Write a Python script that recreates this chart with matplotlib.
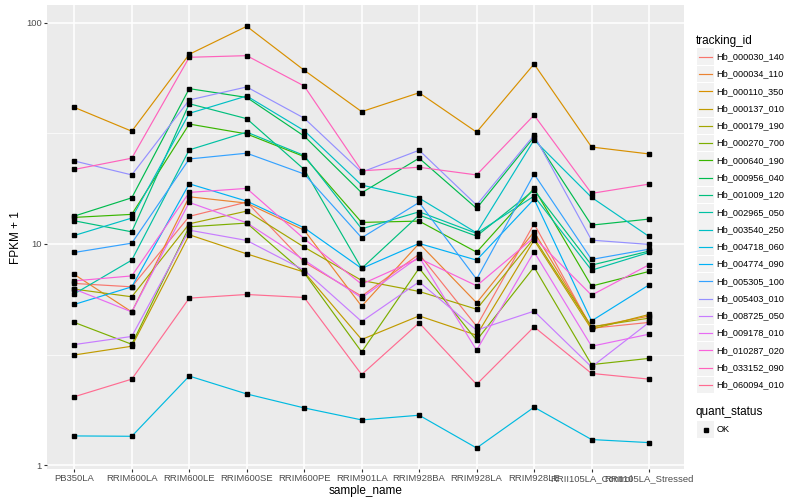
import matplotlib
matplotlib.use("Agg")
import matplotlib.pyplot as plt
from matplotlib.patches import Rectangle
from matplotlib.lines import Line2D

plt.rcParams['font.family'] = ['Liberation Sans', 'DejaVu Sans']

samples = ['PB350LA', 'RRIM600LA', 'RRIM600LE', 'RRIM600SE', 'RRIM600PE', 'RRIM901LA',
           'RRIM928BA', 'RRIM928LA', 'RRIM928LE', 'RRII105LA_Control', 'RRII105LA_Stressed']

tracking_ids = ['Hb_000030_140', 'Hb_000034_110', 'Hb_000110_350', 'Hb_000137_010', 'Hb_000179_190',
                'Hb_000270_700', 'Hb_000640_190', 'Hb_000956_040', 'Hb_001009_120', 'Hb_002965_050',
                'Hb_003540_250', 'Hb_004718_060', 'Hb_004774_090', 'Hb_005305_100', 'Hb_005403_010',
                'Hb_008725_050', 'Hb_009178_010', 'Hb_010287_020', 'Hb_033152_090', 'Hb_060094_010']

# ggplot default hue palette for 20 levels
colors = ['#F8766D', '#EA8331', '#D89000', '#C09B00', '#A3A500', '#7CAE00', '#39B600', '#00BB4E',
          '#00BF7D', '#00C1A3', '#00BFC4', '#00BAE0', '#00B0F6', '#35A2FF', '#9590FF', '#C77CFF',
          '#E76BF3', '#FA62DB', '#FF62BC', '#FF6C91']

# FPKM + 1 per gene, one value per sample
fpkm = {
    'Hb_000030_140': [6.63, 6.40, 13.32, 15.45, 8.27, 5.81, 8.99, 4.25, 12.33, 4.16, 4.42],
    'Hb_000034_110': [7.28, 4.93, 16.33, 15.29, 11.54, 5.23, 10.05, 5.42, 11.34, 4.21, 4.72],
    'Hb_000110_350': [41.4, 32.3, 71.9, 96.2, 60.9, 39.6, 48.2, 32.0, 65.0, 27.4, 25.5],
    'Hb_000137_010': [3.15, 3.45, 11.0, 9.02, 7.46, 3.70, 4.73, 3.87, 10.4, 4.12, 4.80],
    'Hb_000179_190': [6.25, 5.77, 12.33, 14.07, 9.67, 6.84, 6.10, 5.07, 10.62, 4.22, 4.62],
    'Hb_000270_700': [4.42, 3.52, 11.95, 12.42, 7.40, 3.25, 7.77, 3.67, 7.86, 2.85, 3.04],
    'Hb_000640_190': [13.18, 13.60, 34.8, 31.4, 24.8, 12.51, 12.68, 9.18, 17.82, 6.45, 7.51],
    'Hb_000956_040': [13.36, 16.16, 50.3, 45.9, 30.7, 17.02, 24.4, 14.47, 30.4, 12.16, 12.95],
    'Hb_001009_120': [12.72, 11.34, 43.0, 36.8, 21.7, 7.75, 13.50, 10.85, 17.51, 8.02, 9.28],
    'Hb_002965_050': [5.95, 8.45, 26.6, 32.0, 25.1, 11.70, 13.97, 11.16, 16.45, 7.61, 9.15],
    'Hb_003540_250': [10.92, 13.09, 38.9, 46.6, 32.5, 18.44, 16.11, 11.22, 29.5, 16.23, 10.81],
    'Hb_004718_060': [1.357, 1.352, 2.53, 2.10, 1.816, 1.603, 1.683, 1.197, 1.83, 1.307, 1.266],
    'Hb_004774_090': [5.33, 6.40, 18.69, 15.61, 11.82, 7.75, 10.05, 8.45, 15.94, 4.49, 6.53],
    'Hb_005305_100': [9.15, 10.08, 24.2, 25.7, 20.7, 10.66, 15.40, 6.93, 20.7, 8.51, 9.47],
    'Hb_005403_010': [23.7, 20.5, 44.7, 51.2, 37.0, 21.1, 26.5, 14.98, 31.0, 10.40, 9.95],
    'Hb_008725_050': [3.51, 3.82, 11.54, 10.37, 7.61, 4.46, 6.74, 4.08, 4.97, 2.78, 4.42],
    'Hb_009178_010': [6.25, 4.93, 15.40, 12.46, 8.45, 5.71, 8.74, 3.31, 9.21, 3.45, 3.91],
    'Hb_010287_020': [6.81, 7.17, 17.09, 17.82, 10.55, 6.58, 8.60, 6.47, 10.70, 5.87, 8.05],
    'Hb_033152_090': [21.7, 24.4, 69.7, 70.9, 51.7, 21.4, 22.2, 20.5, 38.2, 16.92, 18.63],
    'Hb_060094_010': [2.04, 2.45, 5.69, 5.91, 5.73, 2.57, 4.40, 2.32, 4.22, 2.60, 2.45],
}

fig = plt.figure(figsize=(8, 5), dpi=100)
ax = fig.add_axes([47 / 800, 1 - 469 / 500, 636.5 / 800, 463.7 / 500])
ax.set_facecolor('#EBEBEB')

xs = list(range(len(samples)))
for gene, col in zip(tracking_ids, colors):
    ax.plot(xs, fpkm[gene], color=col, lw=0.85, zorder=3)
    ax.plot(xs, fpkm[gene], ls='none', marker='s', ms=2.2, color='black', zorder=4)

ax.set_yscale('log')
ax.set_ylim(0.962, 119.7)
ax.set_xlim(-0.475, len(samples) - 0.4)

ax.set_yticks([1, 10, 100])
ax.set_yticklabels(['1', '10', '100'])
ax.set_yticks([10 ** 0.5, 10 ** 1.5], minor=True)
ax.yaxis.set_minor_formatter(plt.NullFormatter())
ax.set_xticks(xs)
ax.set_xticklabels(samples)

ax.grid(True, which='major', color='white', lw=1.1, zorder=1)
ax.grid(True, which='minor', axis='y', color='white', lw=0.5, zorder=1)
ax.set_axisbelow(True)
for s in ax.spines.values():
    s.set_visible(False)
ax.tick_params(axis='both', which='major', length=2.5, width=0.8, color='#333333',
               labelsize=6.8, labelcolor='#4D4D4D', pad=1.2)
ax.tick_params(axis='y', which='minor', length=0)

ax.set_xlabel('sample_name', fontsize=8.5, labelpad=1)
ax.set_ylabel('FPKM + 1', fontsize=8.5, labelpad=3)

# legend drawn by hand, ggplot style
lx, ly0, step = 697.3, 56.7, 17.28
fig.text(696 / 800, 1 - 40.7 / 500, 'tracking_id', fontsize=8.5, va='center', ha='left')
for i, (gene, col) in enumerate(zip(tracking_ids, colors)):
    yc = ly0 + i * step
    fig.add_artist(Rectangle((lx / 800, 1 - (yc + 8.3) / 500), 16.6 / 800, 16.6 / 500,
                             transform=fig.transFigure, facecolor='#F2F2F2', edgecolor='none'))
    fig.add_artist(Line2D([(lx + 1.5) / 800, (lx + 15) / 800], [1 - yc / 500, 1 - yc / 500],
                          transform=fig.transFigure, color=col, lw=0.85))
    fig.text(716.7 / 800, 1 - yc / 500, gene, fontsize=6.6, va='center', ha='left')

fig.text(696 / 800, 1 - 411.7 / 500, 'quant_status', fontsize=8.5, va='center', ha='left')
yc = 429.5
fig.add_artist(Rectangle((lx / 800, 1 - (yc + 8.3) / 500), 16.6 / 800, 16.6 / 500,
                         transform=fig.transFigure, facecolor='#F2F2F2', edgecolor='none'))
fig.add_artist(Line2D([(lx + 8.3) / 800], [1 - yc / 500], transform=fig.transFigure,
                      ls='none', marker='s', ms=2.2, color='black'))
fig.text(716.7 / 800, 1 - yc / 500, 'OK', fontsize=6.6, va='center', ha='left')

fig.savefig('out.png', dpi=100)
